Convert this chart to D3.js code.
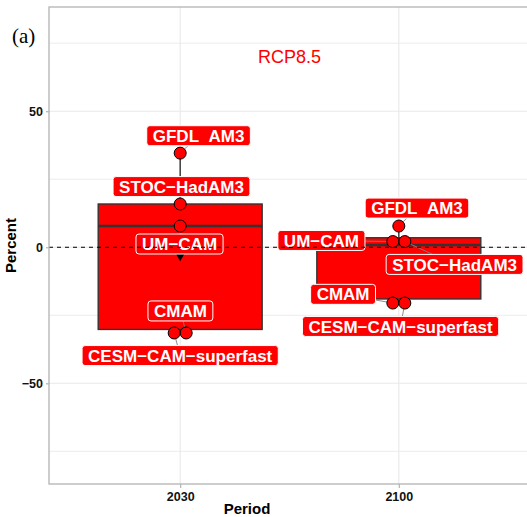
<!DOCTYPE html>
<html>
<head>
<meta charset="utf-8">
<script src="https://cdn.jsdelivr.net/npm/d3@7"></script>
<style>
  body { margin: 0; background: #fff; }
  svg { display: block; font-family: "Liberation Sans", Arial, Helvetica, sans-serif; }
</style>
</head>
<body>
<svg id="chart" width="527" height="517"></svg>
<script>
// data
const periods = ['2030', '2100'];
const models = ['GFDL_AM3', 'STOC-HadAM3', 'UM-CAM', 'CMAM', 'CESM-CAM-superfast'];
const change2030 = [34.6, 15.9, 7.8, -31.5, -31.5];
const change2100 = [7.8, 2.1, 2.1, -20.5, -20.5];
// box statistics per period
const boxLower = [-31.5, -20.5];
const boxQ1 = [-30.2, -19.0];
const boxMedian = [7.8, 0.85];
const boxQ3 = [15.9, 3.5];
const boxUpper = [34.6, 7.8];
const periodMean = [-3, -6];
const yTicks = [-50, 0, 50];
const yMinorTicks = [-75, -25, 25, 75];
const scenario = 'RCP8.5';
const panelTag = '(a)';

// where the repelled labels ended up: [shift in period units, percent]
const labelSpot2030 = [[0.084, 41], [0.006, 22.3], [-0.003, 1.2], [0.001, -23.4], [0, -39.8]];
const labelSpot2100 = [[0.083, 14.4], [0.255, -6.3], [-0.354, 2.5], [-0.255, -17.3], [0.008, -29.1]];

const panel = { left: 49, right: 530, top: 7, bottom: 484 };
const RED = '#ff0000';
const pointR = 6;

const svg = d3.select('#chart');
svg.append('rect').attr('width', 527).attr('height', 517).attr('fill', '#fff');

const x = d3.scalePoint().domain(periods).range([panel.left, panel.right]).padding(0.6);
const step = x.step();
const y = d3.scaleLinear().domain([-87, 88.3]).range([panel.bottom, panel.top]);

svg.append('defs').append('clipPath').attr('id', 'clip')
  .append('rect')
  .attr('x', panel.left).attr('y', panel.top)
  .attr('width', panel.right - panel.left).attr('height', panel.bottom - panel.top);

const grid = svg.append('g').attr('clip-path', 'url(#clip)');
grid.selectAll('.minor').data(yMinorTicks).enter().append('line')
  .attr('x1', panel.left).attr('x2', panel.right)
  .attr('y1', d => y(d)).attr('y2', d => y(d))
  .attr('stroke', '#ececec').attr('stroke-width', 1);
grid.selectAll('.major').data(yTicks).enter().append('line')
  .attr('x1', panel.left).attr('x2', panel.right)
  .attr('y1', d => y(d)).attr('y2', d => y(d))
  .attr('stroke', '#e8e8e8').attr('stroke-width', 1.1);
grid.selectAll('.vmajor').data(periods).enter().append('line')
  .attr('x1', d => x(d)).attr('x2', d => x(d))
  .attr('y1', panel.top).attr('y2', panel.bottom)
  .attr('stroke', '#e8e8e8').attr('stroke-width', 1.1);

const plot = svg.append('g').attr('clip-path', 'url(#clip)');

// boxes
periods.forEach((p, i) => {
  const cx = x(p);
  const half = step * 0.75 / 2;
  plot.append('line')
    .attr('x1', cx).attr('x2', cx)
    .attr('y1', y(boxQ3[i])).attr('y2', y(boxUpper[i]))
    .attr('stroke', '#333').attr('stroke-width', 1.4);
  plot.append('line')
    .attr('x1', cx).attr('x2', cx)
    .attr('y1', y(boxQ1[i])).attr('y2', y(boxLower[i]))
    .attr('stroke', '#333').attr('stroke-width', 1.4);
  plot.append('rect')
    .attr('x', cx - half).attr('width', half * 2)
    .attr('y', y(boxQ3[i])).attr('height', y(boxQ1[i]) - y(boxQ3[i]))
    .attr('fill', RED).attr('stroke', '#333').attr('stroke-width', 1.4);
  plot.append('line')
    .attr('x1', cx - half).attr('x2', cx + half)
    .attr('y1', y(boxMedian[i])).attr('y2', y(boxMedian[i]))
    .attr('stroke', '#333').attr('stroke-width', 2.4);
});

// points, with overlapping ones pushed sideways
const series = [change2030, change2100];
const spots = [labelSpot2030, labelSpot2100];
const pts = [];
periods.forEach((p, i) => {
  const group = models.map((m, j) => ({
    model: m, period: p, value: series[i][j],
    lx: x(p) + spots[i][j][0] * step, ly: y(spots[i][j][1]), dx: 0
  }));
  const used = new Set();
  group.forEach((a, j) => {
    if (used.has(j)) return;
    const cluster = group.filter((b, k) => !used.has(k) && Math.abs(y(a.value) - y(b.value)) < pointR * 2);
    cluster.forEach(c => used.add(group.indexOf(c)));
    cluster.sort((u, v) => u.lx - v.lx);
    cluster.forEach((c, k) => { c.dx = (k - (cluster.length - 1) / 2) * pointR * 2; });
  });
  group.forEach(g => { g.px = x(p) + g.dx; g.py = y(g.value); });
  pts.push(...group);
});

const displayName = m => m.replace('_', '\u00a0\u00a0').replace(/-/g, '\u2212');
const fontSize = 17;
const padX = 6, boxH = 20;

// label boxes first measured, segments drawn under everything else
const labelLayer = svg.append('g');
const labels = labelLayer.selectAll('g.lab').data(pts).enter().append('g')
  .attr('class', 'lab')
  .attr('transform', d => 'translate(' + d.lx + ',' + d.ly + ')');
labels.append('rect');
labels.append('text')
  .attr('text-anchor', 'middle')
  .attr('dy', '0.36em')
  .attr('font-size', fontSize)
  .attr('font-weight', 'bold')
  .attr('fill', '#fff')
  .text(d => displayName(d.model));
labels.each(function(d) {
  d.w = d3.select(this).select('text').node().getComputedTextLength() + padX * 2;
});
labels.select('rect')
  .attr('x', d => -d.w / 2).attr('y', -boxH / 2)
  .attr('width', d => d.w).attr('height', boxH)
  .attr('rx', 3).attr('ry', 3)
  .attr('fill', RED).attr('stroke', '#fff').attr('stroke-width', 1);

// segment from point to label edge
const segLayer = plot.append('g');
pts.forEach(d => {
  const vx = d.lx - d.px, vy = d.ly - d.py;
  const tx = vx === 0 ? Infinity : (d.w / 2) / Math.abs(vx);
  const ty = vy === 0 ? Infinity : (boxH / 2) / Math.abs(vy);
  const t = 1 - Math.min(tx, ty, 1);
  if (t <= 0) return;
  const ex = d.px + vx * t, ey = d.py + vy * t;
  if (Math.hypot(ex - d.px, ey - d.py) < 3) return;
  segLayer.append('line')
    .attr('x1', d.px).attr('y1', d.py).attr('x2', ex).attr('y2', ey)
    .attr('stroke', '#7f7f7f').attr('stroke-width', 0.9);
});

plot.selectAll('circle.pt').data(pts).enter().append('circle')
  .attr('class', 'pt')
  .attr('cx', d => d.px).attr('cy', d => d.py).attr('r', pointR)
  .attr('fill', RED).attr('stroke', '#000').attr('stroke-width', 1);

// mean marker (filled down triangle)
const xc = 3.7;
plot.selectAll('path.mean').data(periodMean).enter().append('path')
  .attr('class', 'mean')
  .attr('d', (m, i) => {
    const cx = x(periods[i]), cy = y(m);
    const h = 1.3468 * xc, yc = 0.7776 * xc, r = 1.5551 * xc;
    return 'M' + (cx - h) + ',' + (cy - yc) + 'L' + (cx + h) + ',' + (cy - yc) + 'L' + cx + ',' + (cy + r) + 'Z';
  })
  .attr('fill', '#000');

labelLayer.raise();

// zero line on top
svg.append('line')
  .attr('x1', panel.left).attr('x2', panel.right)
  .attr('y1', y(0)).attr('y2', y(0))
  .attr('stroke', '#000').attr('stroke-width', 1)
  .attr('stroke-dasharray', '4,4');

// panel border
svg.append('rect')
  .attr('x', panel.left).attr('y', panel.top)
  .attr('width', panel.right - panel.left).attr('height', panel.bottom - panel.top)
  .attr('fill', 'none').attr('stroke', '#b3b3b3').attr('stroke-width', 1.3);

// axes
const yAxis = svg.append('g')
  .attr('transform', 'translate(' + panel.left + ',0)')
  .call(d3.axisLeft(y).tickValues(yTicks).tickSize(3).tickPadding(3).tickFormat(d3.format('d')));
const xAxis = svg.append('g')
  .attr('transform', 'translate(0,' + panel.bottom + ')')
  .call(d3.axisBottom(x).tickSize(4).tickPadding(4));
[yAxis, xAxis].forEach(a => {
  a.select('.domain').remove();
  a.selectAll('.tick line').attr('stroke', '#b3b3b3').attr('stroke-width', 1.2);
  a.selectAll('.tick text')
    .attr('font-family', '"Liberation Sans", Arial, sans-serif')
    .attr('font-size', 12.5).attr('font-weight', 'bold').attr('fill', '#111');
});

svg.append('text')
  .attr('x', 247).attr('y', 514)
  .attr('text-anchor', 'middle')
  .attr('font-size', 15).attr('font-weight', 'bold')
  .text('Period');

svg.append('text')
  .attr('transform', 'translate(16,' + ((panel.top + panel.bottom) / 2) + ') rotate(-90)')
  .attr('text-anchor', 'middle')
  .attr('font-size', 15).attr('font-weight', 'bold')
  .text('Percent');

svg.append('text')
  .attr('x', (x(periods[0]) + x(periods[1])) / 2).attr('y', 63)
  .attr('text-anchor', 'middle')
  .attr('font-size', 18)
  .attr('fill', RED)
  .text(scenario);

svg.append('text')
  .attr('x', 12).attr('y', 43)
  .attr('font-family', '"Liberation Serif", "Times New Roman", serif')
  .attr('font-size', 21)
  .text(panelTag);
</script>
</body>
</html>
